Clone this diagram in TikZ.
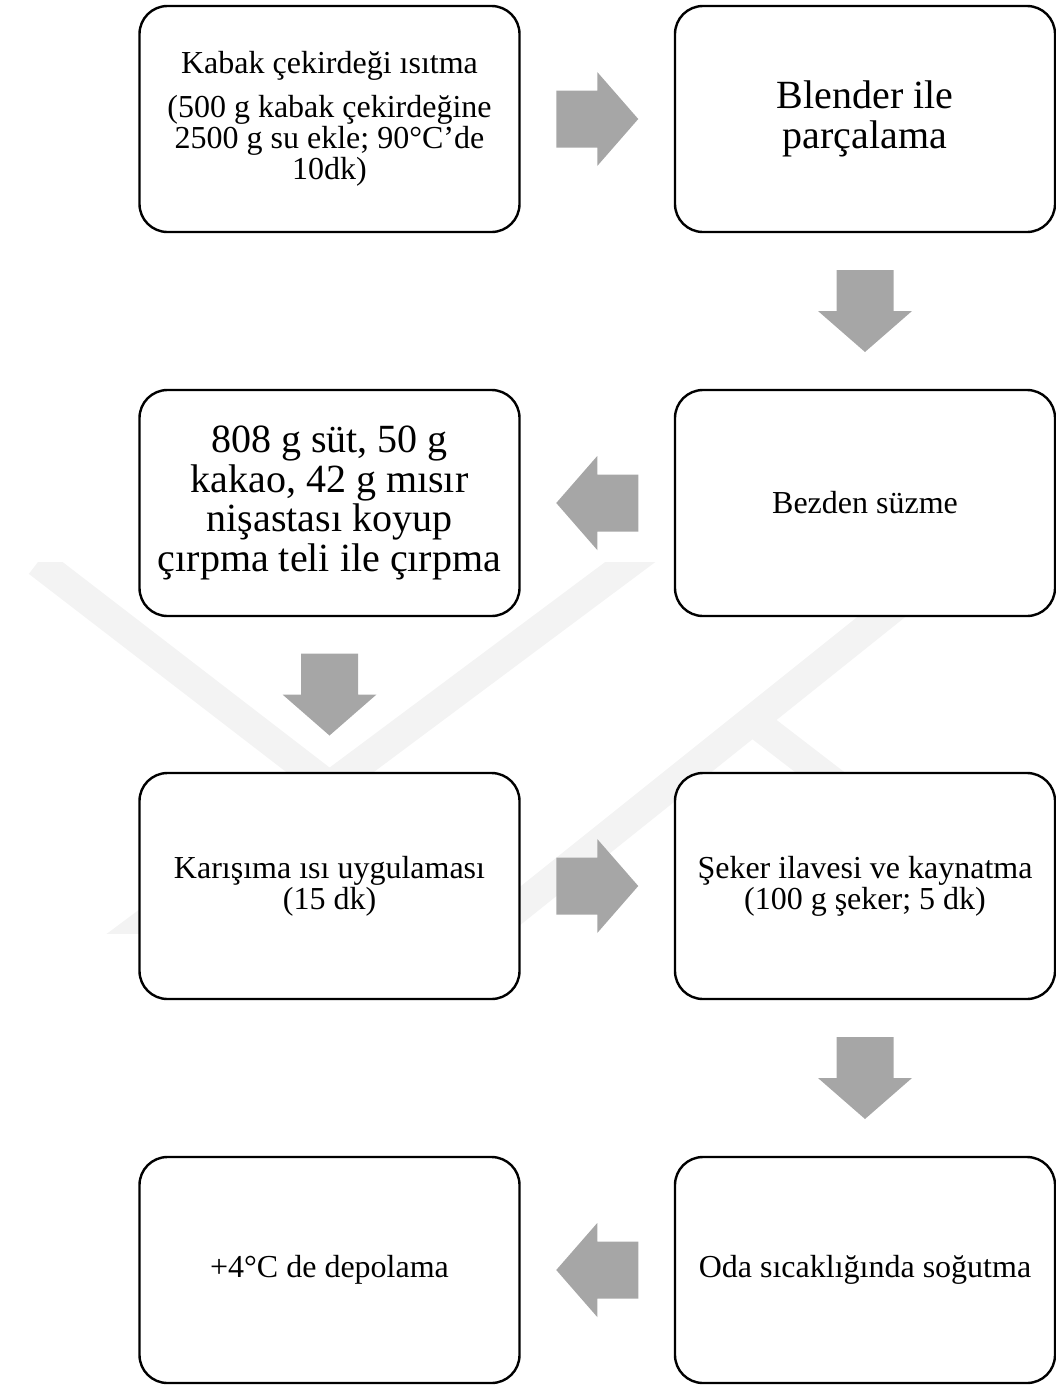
\documentclass[tikz,border=0pt]{standalone}
\usepackage{fontspec}
\setmainfont{Liberation Serif}
\usetikzlibrary{calc}

\definecolor{arrowgray}{HTML}{A6A6A6}
\definecolor{wmgray}{HTML}{F3F3F3}

\def\smalltxt{\fontsize{32}{31}\selectfont}
\def\bigtxt{\fontsize{40}{39.5}\selectfont}

\begin{document}
\begin{tikzpicture}[x=1pt, y=1pt,
  stepbox/.style={draw, line width=2.4pt, rounded corners=28pt, fill=white,
    minimum width=380pt, minimum height=226pt, inner sep=4pt,
    align=center, font=\smalltxt},
  blockarrow/.pic={
    \fill[arrowgray] (-41,-28.5) -- (0,-28.5) -- (0,-47) -- (41,0)
      -- (0,47) -- (0,28.5) -- (-41,28.5) -- cycle;}]
  \useasboundingbox (0,0) rectangle (1056,-1387);

  % faint watermark behind the chart
  \begin{scope}
    \clip (0,-562) rectangle (1056,-933);
    \draw[wmgray, line width=30pt] (38,-562) -- (329,-786);
    \draw[wmgray, line width=30pt] (700,-510) -- (90,-965);
    \draw[wmgray, line width=30pt] (1015,-510) -- (440,-970);
    \draw[wmgray, line width=30pt] (752,-720) -- (1029,-933);
  \end{scope}

  \node[stepbox] (isitma) at (329.5,-119)
    {Kabak çekirdeği ısıtma\\[13pt](500 g kabak çekirdeğine\\2500 g su ekle; 90°C’de\\10dk)};
  \node[stepbox, font=\bigtxt] (blender) at (865,-119) {Blender ile\\parçalama};
  \node[stepbox] (suzme) at (865,-503) {Bezden süzme};
  \node[stepbox, font=\bigtxt] (karistirma) at (329.5,-503)
    {808 g süt, 50 g\\kakao, 42 g mısır\\nişastası koyup\\çırpma teli ile çırpma};
  \node[stepbox] (isil) at (329.5,-886) {Karışıma ısı uygulaması\\(15 dk)};
  \node[stepbox] (seker) at (865,-886) {Şeker ilavesi ve kaynatma\\(100 g şeker; 5 dk)};
  \node[stepbox] (sogutma) at (865,-1270) {Oda sıcaklığında soğutma};
  \node[stepbox] (depolama) at (329.5,-1270) {+4°C de depolama};

  % block arrows between the steps
  \pic at ($(isitma.east)!0.5!(blender.west)$) {blockarrow};
  \pic[rotate=-90] at ($(blender.south)!0.5!(suzme.north)$) {blockarrow};
  \pic[rotate=180] at ($(suzme.west)!0.5!(karistirma.east)$) {blockarrow};
  \pic[rotate=-90] at ($(karistirma.south)!0.5!(isil.north)$) {blockarrow};
  \pic at ($(isil.east)!0.5!(seker.west)$) {blockarrow};
  \pic[rotate=-90] at ($(seker.south)!0.5!(sogutma.north)$) {blockarrow};
  \pic[rotate=180] at ($(sogutma.west)!0.5!(depolama.east)$) {blockarrow};

\end{tikzpicture}
\end{document}
